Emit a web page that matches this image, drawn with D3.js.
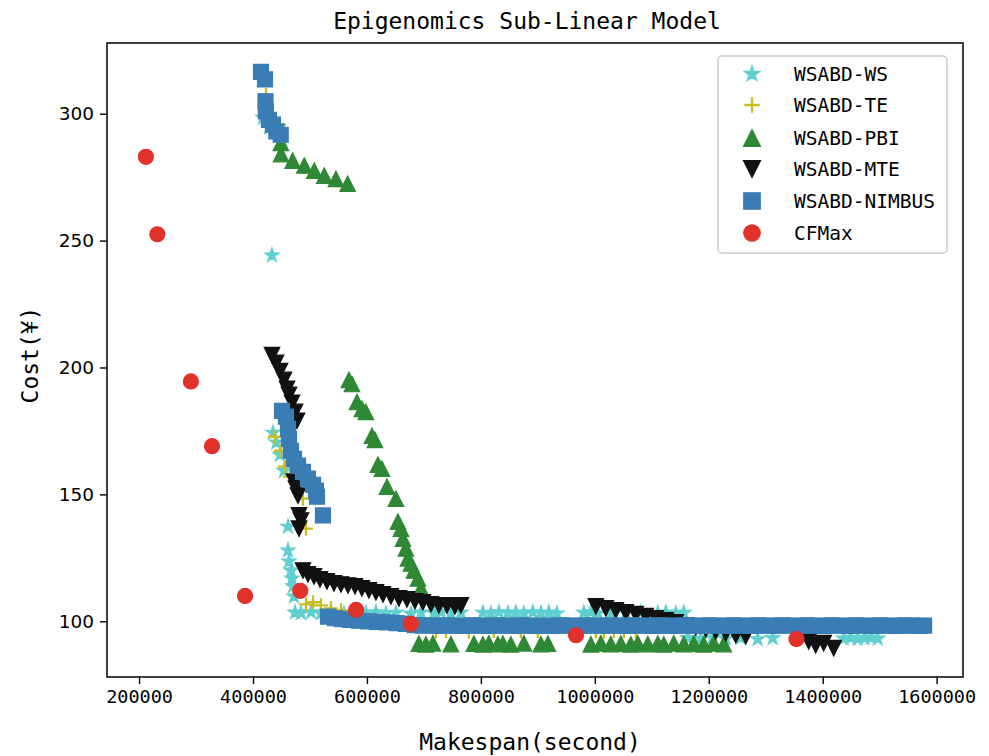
<!DOCTYPE html>
<html>
<head>
<meta charset="utf-8">
<script src="https://cdn.jsdelivr.net/npm/d3@7"></script>
<style>
  body { margin: 0; background: #fff; }
  svg text { fill: #000; }
</style>
</head>
<body>
<svg id="chart" width="989" height="756"></svg>
<script>
// ---- data: [makespan (s), cost] per algorithm ----
const seriesNames = ["WSABD-WS", "WSABD-TE", "WSABD-PBI", "WSABD-MTE", "WSABD-NIMBUS", "CFMax"];

const wsPoints = [
  [417500, 298.4], [428000, 294.5], [433300, 244.2], [435100, 174.3], [441000, 170.5],
  [447400, 165.6], [454400, 159.3], [461400, 137.3], [461400, 127.9], [463200, 123.6],
  [466700, 120.0], [468400, 116.9], [470200, 113.8], [472000, 109.8], [473700, 103.5],
  [484200, 103.2], [501800, 103.6], [519300, 103.1], [536800, 103.4], [559600, 103.0],
  [580700, 103.5], [598200, 103.2], [615800, 103.6], [633300, 103.1], [650900, 103.4],
  [677200, 103.0], [694800, 103.5], [717500, 103.3], [729900, 103.6], [747400, 103.2],
  [765000, 103.5], [803500, 103.4], [817500, 103.1], [831600, 103.6], [847400, 103.2],
  [861400, 103.5], [875400, 103.1], [891200, 103.6], [905300, 103.3], [919300, 103.5],
  [933300, 103.1], [980700, 103.4], [993000, 103.6], [1005300, 103.2], [1028100, 103.5],
  [1054400, 103.3], [1080700, 103.6], [1110500, 103.2], [1124600, 103.5], [1142100, 103.1],
  [1156100, 103.4], [1163200, 93.4], [1186000, 93.1], [1207000, 93.6], [1229800, 93.2],
  [1256100, 93.5], [1285900, 93.0], [1312300, 93.4], [1436900, 93.2], [1449100, 93.5],
  [1461400, 93.1], [1473700, 93.4], [1484200, 93.6], [1496500, 93.2]
];

const tePoints = [
  [422800, 307.5], [445600, 295.7], [438600, 172.7], [449100, 167.2], [456100, 160.9],
  [464900, 157.0], [487700, 148.3], [493000, 136.5], [493000, 106.7], [505300, 107.5],
  [519300, 106.3], [536800, 105.1], [554400, 104.3], [721000, 96.0], [738600, 96.2],
  [779000, 95.9], [822800, 96.1], [870200, 96.0], [900000, 96.2], [1001800, 96.0],
  [1015800, 95.9], [1033300, 96.1], [1050900, 96.0], [1071900, 96.2]
];

const pbiPoints = [
  [449000, 288.5], [449100, 284.1], [469600, 281.5], [490000, 279.6], [507500, 277.6],
  [525100, 275.6], [545600, 274.3], [566100, 272.4],
  [568400, 195.1], [573700, 193.5], [582500, 186.4], [591200, 183.7], [598200, 182.5],
  [608800, 173.1], [614000, 171.5], [619300, 161.7], [626300, 160.1], [635100, 153.0],
  [650900, 148.3], [654400, 139.3], [659700, 136.5], [663200, 132.6], [668400, 128.7],
  [672000, 124.8], [677200, 122.8], [682500, 120.0], [689500, 116.9], [694800, 113.0],
  [691200, 91.2], [703500, 90.9], [715800, 91.3], [747400, 91.0], [787700, 91.2],
  [803500, 90.9], [814000, 91.3], [829800, 91.0], [838600, 91.2], [852600, 90.9],
  [875400, 91.3], [905300, 91.0], [917600, 91.2], [993000, 90.9], [1010500, 91.3],
  [1028000, 91.0], [1045600, 91.2], [1063200, 90.9], [1075400, 91.3], [1093000, 91.0],
  [1110500, 91.2], [1121100, 90.9], [1138600, 91.3], [1156100, 91.0], [1173700, 91.2],
  [1191200, 90.9], [1208800, 91.3], [1226300, 91.0]
];

const mtePoints = [
  [433300, 204.9], [440400, 201.8], [447400, 198.6], [454400, 195.1], [459700, 191.6],
  [463200, 189.2], [468400, 186.1], [473700, 182.5], [477200, 179.0], [471900, 155.0],
  [475400, 152.3], [478900, 149.5], [480700, 141.7], [484200, 139.7], [480700, 136.5],
  [487700, 120.0], [496500, 118.5], [507000, 117.7], [517500, 116.5], [529800, 115.7],
  [542100, 114.9], [554400, 114.5], [566700, 114.1], [579000, 113.8], [591200, 113.0],
  [603500, 112.2], [615800, 111.4], [628100, 110.6], [642100, 109.8], [656100, 109.0],
  [670200, 108.6], [684200, 107.9], [698200, 107.5], [712300, 106.7], [726300, 106.3],
  [740400, 106.3], [754400, 105.9], [765000, 106.3],
  [1001800, 105.9], [1019300, 105.1], [1036900, 104.3], [1054400, 103.5], [1071900, 102.8],
  [1089500, 102.0], [1107000, 101.2], [1124600, 100.4], [1142100, 99.6], [1159700, 98.4],
  [1177200, 97.6], [1194700, 96.9], [1212300, 96.1], [1229800, 95.3], [1247400, 94.5],
  [1264900, 94.1], [1375500, 92.1], [1387700, 90.6], [1401800, 91.4], [1419300, 89.4]
];

const nimbusPoints = [
  [414000, 316.5], [421000, 313.5], [421900, 304.9], [422500, 300.9], [428000, 297.6],
  [435000, 295.7], [441000, 293.0], [448600, 291.7],
  [450900, 182.9], [457900, 180.6], [461400, 175.8], [463200, 171.9], [466700, 167.2],
  [471900, 164.0], [479000, 161.3], [487700, 158.9], [496500, 156.2], [505300, 153.8],
  [510500, 151.5], [512300, 149.1], [522800, 141.7],
  [531600, 101.8], [543900, 101.2], [556100, 100.8], [570200, 100.5], [586000, 100.2],
  [601800, 100.0], [617500, 99.8], [635100, 99.6], [652600, 99.3], [668400, 99.0],
  [684000, 98.5], [698000, 98.3], [713000, 98.4], [727000, 98.2], [741000, 98.4],
  [756000, 98.3], [770000, 98.2], [784000, 98.4], [799000, 98.3], [814000, 98.2],
  [828000, 98.4], [842000, 98.3], [856000, 98.2], [871000, 98.4], [885000, 98.3],
  [899000, 98.2], [914000, 98.3], [928000, 98.2], [942000, 98.4], [956000, 98.3],
  [971000, 98.2], [985000, 98.4], [999000, 98.3], [1014000, 98.2], [1028000, 98.4],
  [1042000, 98.3], [1057000, 98.2], [1071000, 98.4], [1085000, 98.3], [1100000, 98.2],
  [1114000, 98.4], [1128000, 98.3], [1143000, 98.2], [1157000, 98.4], [1171000, 98.3],
  [1186000, 98.2], [1200000, 98.4], [1214000, 98.3], [1229000, 98.2], [1243000, 98.4],
  [1257000, 98.3], [1272000, 98.2], [1286000, 98.4], [1300000, 98.3], [1315000, 98.2],
  [1329000, 98.4], [1343000, 98.3], [1358000, 98.2], [1372000, 98.4], [1386000, 98.3],
  [1401000, 98.2], [1415000, 98.4], [1429000, 98.3], [1444000, 98.2], [1458000, 98.4],
  [1472000, 98.3], [1487000, 98.2], [1501000, 98.4], [1515000, 98.3], [1530000, 98.2],
  [1544000, 98.4], [1558000, 98.3], [1570000, 98.2], [1578000, 98.3]
];

const cfmaxPoints = [
  [212000, 283.0], [232000, 252.5], [291000, 194.5], [328000, 169.0], [386000, 110.0],
  [483000, 112.0], [581000, 104.5], [677000, 99.0], [967000, 94.5], [1354000, 93.0]
];

const xTickValues = [200000, 400000, 600000, 800000, 1000000, 1200000, 1400000, 1600000];
const yTickValues = [100, 150, 200, 250, 300];

// ---- marker shapes (size = full pixel extent) ----
const starShape = {
  draw(ctx, size) {
    const R = size / 2, r = R * 0.381966;
    for (let i = 0; i < 10; i++) {
      const a = -Math.PI / 2 + i * Math.PI / 5;
      const rad = i % 2 === 0 ? R : r;
      const px = rad * Math.cos(a), py = rad * Math.sin(a);
      if (i === 0) ctx.moveTo(px, py); else ctx.lineTo(px, py);
    }
    ctx.closePath();
  }
};
const plusShape = {
  draw(ctx, size) {
    const h = size / 2;
    ctx.moveTo(-h, 0); ctx.lineTo(h, 0);
    ctx.moveTo(0, -h); ctx.lineTo(0, h);
  }
};
const triUpShape = {
  draw(ctx, size) {
    const h = size / 2;
    ctx.moveTo(0, -h); ctx.lineTo(h, h); ctx.lineTo(-h, h); ctx.closePath();
  }
};
const triDownShape = {
  draw(ctx, size) {
    const h = size / 2;
    ctx.moveTo(0, h); ctx.lineTo(h, -h); ctx.lineTo(-h, -h); ctx.closePath();
  }
};
const squareShape = {
  draw(ctx, size) {
    const h = size / 2;
    ctx.rect(-h, -h, size, size);
  }
};
const circleShape = {
  draw(ctx, size) {
    const r = size / 2;
    ctx.moveTo(r, 0); ctx.arc(0, 0, r, 0, 2 * Math.PI);
  }
};

const series = [
  { name: seriesNames[0], points: wsPoints,     shape: starShape,    size: 15,   color: "#5fcfcf", filled: true },
  { name: seriesNames[1], points: tePoints,     shape: plusShape,    size: 14,   color: "#c9bc25", filled: false },
  { name: seriesNames[2], points: pbiPoints,    shape: triUpShape,   size: 15.5, color: "#2f8934", filled: true },
  { name: seriesNames[3], points: mtePoints,    shape: triDownShape, size: 15.5, color: "#111111", filled: true },
  { name: seriesNames[4], points: nimbusPoints, shape: squareShape,  size: 15,   color: "#3a7db5", filled: true },
  { name: seriesNames[5], points: cfmaxPoints,  shape: circleShape,  size: 15,   color: "#e1312a", filled: true }
];

// ---- layout ----
const plot = { left: 107, top: 43, right: 963, bottom: 677 };
const svg = d3.select("#chart");

// domain padded 5% on each side of the data extent
const allPts = series.flatMap(s => s.points);
const [x0, x1] = d3.extent(allPts, d => d[0]);
const [y0, y1] = d3.extent(allPts, d => d[1]);
const xPad = (x1 - x0) * 0.05, yPad = (y1 - y0) * 0.05;

const x = d3.scaleLinear().domain([x0 - xPad, x1 + xPad]).range([plot.left, plot.right]);
const y = d3.scaleLinear().domain([y0 - yPad, y1 + yPad]).range([plot.bottom, plot.top]);

// clip markers to the axes box
svg.append("defs").append("clipPath").attr("id", "plotClip")
  .append("rect")
  .attr("x", plot.left).attr("y", plot.top)
  .attr("width", plot.right - plot.left).attr("height", plot.bottom - plot.top);

const marks = svg.append("g").attr("clip-path", "url(#plotClip)");

series.forEach(s => {
  const sym = d3.symbol().type(s.shape).size(s.size);
  marks.append("g")
    .selectAll("path")
    .data(s.points)
    .join("path")
    .attr("d", sym)
    .attr("transform", d => `translate(${x(d[0])},${y(d[1])})`)
    .attr("fill", s.filled ? s.color : "none")
    .attr("stroke", s.color)
    .attr("stroke-width", s.filled ? 1.2 : 2.3)
    .attr("stroke-linejoin", "miter");
});

// ---- axes ----
const xAxis = svg.append("g")
  .attr("transform", `translate(0,${plot.bottom})`)
  .call(d3.axisBottom(x).tickValues(xTickValues).tickFormat(d3.format("d"))
    .tickSize(7).tickPadding(6).tickSizeOuter(0));
xAxis.select(".domain").remove();
xAxis.selectAll(".tick line").attr("stroke", "#000").attr("stroke-width", 1.4);
xAxis.selectAll(".tick text")
  .attr("font-family", "'DejaVu Sans Mono', monospace")
  .attr("font-size", 18.5)
  .attr("dy", "0.72em");

const yAxis = svg.append("g")
  .attr("transform", `translate(${plot.left},0)`)
  .call(d3.axisLeft(y).tickValues(yTickValues).tickFormat(d3.format("d"))
    .tickSize(7).tickPadding(6).tickSizeOuter(0));
yAxis.select(".domain").remove();
yAxis.selectAll(".tick line").attr("stroke", "#000").attr("stroke-width", 1.4);
yAxis.selectAll(".tick text")
  .attr("font-family", "'DejaVu Sans', sans-serif")
  .attr("font-size", 18.5);

// frame
svg.append("rect")
  .attr("x", plot.left).attr("y", plot.top)
  .attr("width", plot.right - plot.left).attr("height", plot.bottom - plot.top)
  .attr("fill", "none").attr("stroke", "#111").attr("stroke-width", 1.6);

// ---- titles ----
svg.append("text")
  .attr("x", 527).attr("y", 29)
  .attr("text-anchor", "middle")
  .attr("font-family", "'DejaVu Sans Mono', monospace")
  .attr("font-size", 23)
  .text("Epigenomics Sub-Linear Model");

svg.append("text")
  .attr("x", 530).attr("y", 750)
  .attr("text-anchor", "middle")
  .attr("font-family", "'DejaVu Sans Mono', monospace")
  .attr("font-size", 23)
  .text("Makespan(second)");

svg.append("text")
  .attr("transform", "translate(38,355) rotate(-90)")
  .attr("text-anchor", "middle")
  .attr("font-family", "'DejaVu Sans Mono', monospace")
  .attr("font-size", 23)
  .text("Cost(¥)");

// ---- legend ----
const legend = svg.append("g");
legend.append("rect")
  .attr("x", 718).attr("y", 56).attr("width", 229).attr("height", 197)
  .attr("rx", 4).attr("ry", 4)
  .attr("fill", "#fff").attr("fill-opacity", 0.8)
  .attr("stroke", "#cccccc").attr("stroke-width", 1.5);

const legendRows = [74, 105, 138, 169, 201, 233];
series.forEach((s, i) => {
  const sym = d3.symbol().type(s.shape).size(s.size + 1.5);
  legend.append("path")
    .attr("d", sym)
    .attr("transform", `translate(752,${legendRows[i]})`)
    .attr("fill", s.filled ? s.color : "none")
    .attr("stroke", s.color)
    .attr("stroke-width", s.filled ? 1.2 : 2.3);
  legend.append("text")
    .attr("x", 794).attr("y", legendRows[i])
    .attr("dy", "0.36em")
    .attr("font-family", "'DejaVu Sans Mono', monospace")
    .attr("font-size", 19.5)
    .text(s.name);
});
</script>
</body>
</html>
